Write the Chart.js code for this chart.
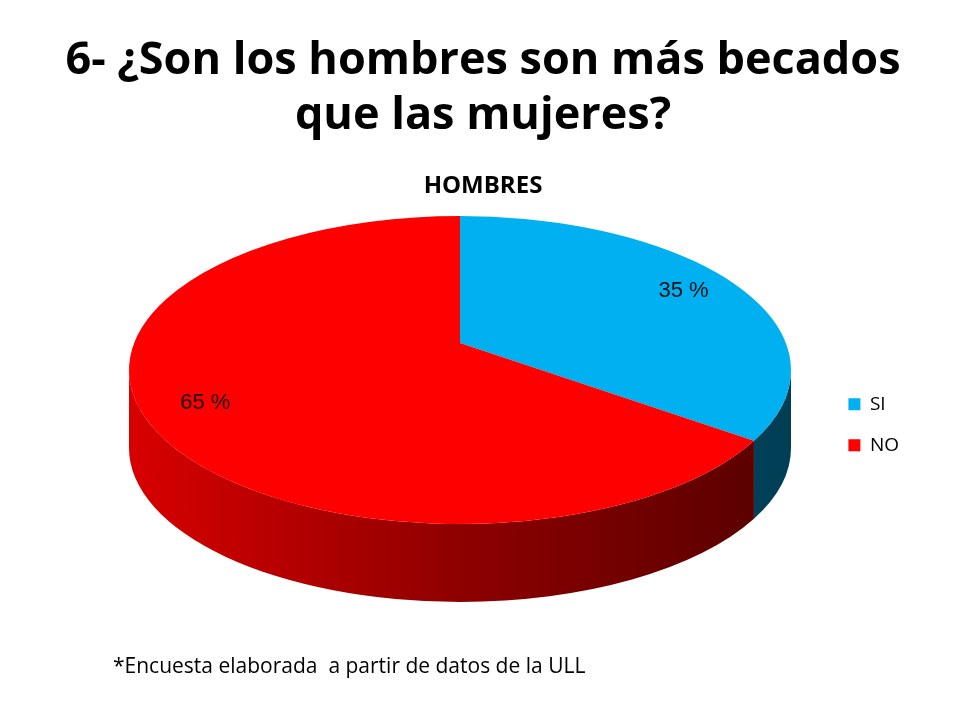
<!DOCTYPE html>
<html lang="es">
<head>
<meta charset="utf-8">
<title>6- ¿Son los hombres son más becados que las mujeres?</title>
<script src="https://cdn.jsdelivr.net/npm/chart.js@4.4.1/dist/chart.umd.min.js"></script>
<style>
  html, body { margin: 0; padding: 0; background: #fff; }
  #wrap { position: relative; width: 960px; height: 720px; }
  #note {
    position: absolute; left: 113px; top: 651px;
    font: 21px "Open Sans", sans-serif; color: #000; white-space: pre;
  }
</style>
</head>
<body>
<div id="wrap">
  <canvas id="pie" width="960" height="720"></canvas>
  <div id="note">*Encuesta elaborada  a partir de datos de la ULL</div>
</div>
<script>
// ── Data ────────────────────────────────────────────────────────────────
const TITLE_LINES = ["6- ¿Son los hombres son más becados", "que las mujeres?"];
const SUBTITLE    = "HOMBRES";
const CATEGORIES  = ["SI", "NO"];
const VALUES      = [35, 65];
const TOP_COLORS  = ["#00B0F0", "#FF0000"];

// ── 3D look (layout only) ───────────────────────────────────────────────
// outline ellipse of the top face, perspective drop of the centre, wall height
const ELLIPSE = { cx: 460, cy: 370, rx: 331, ry: 154, drop: 27, depth: 78 };

// perspective map of a point on the unit disk (canvas angle, radius) onto the tilted top face
function project(theta, f) {
  const { cx, cy, rx, ry, drop } = ELLIPSE;
  const c = -drop / ry;
  const a = Math.sqrt(1 - c * c);
  const u = f * Math.cos(theta), v = f * Math.sin(theta);
  const w = 1 + c * v;
  return { x: cx + rx * a * u / w, y: cy + ry * (v + c) / w };
}

// same point expressed as an angle on the outline ellipse (unwrapped near theta)
function outlineAngle(theta) {
  const { cx, cy, rx, ry } = ELLIPSE;
  const p = project(theta, 1);
  let phi = Math.atan2((p.y - cy) / ry, (p.x - cx) / rx);
  phi += 2 * Math.PI * Math.round((theta - phi) / (2 * Math.PI));
  return phi;
}

function sideFill(ctx, i) {
  const g = ctx.createLinearGradient(ELLIPSE.cx - ELLIPSE.rx, 0, ELLIPSE.cx + ELLIPSE.rx, 0);
  if (i === 0) {
    g.addColorStop(0, "#006a8e");
    g.addColorStop(1, "#003e55");
  } else {
    g.addColorStop(0, "#d80000");
    g.addColorStop(0.5, "#8e0000");
    g.addColorStop(1, "#560000");
  }
  return g;
}

const pie3d = {
  id: "pie3d",
  beforeDatasetsDraw(chart) {
    const ctx = chart.ctx;
    const meta = chart.getDatasetMeta(0);
    const { cx, cy, rx, ry, drop, depth } = ELLIPSE;

    // side walls: only the front half of the outline is visible
    meta.data.forEach((arc, i) => {
      const { startAngle, endAngle } = arc.getProps(["startAngle", "endAngle"], true);
      const a = Math.max(outlineAngle(startAngle), 0);
      const b = Math.min(outlineAngle(endAngle), Math.PI);
      if (b <= a) return;
      ctx.save();
      ctx.beginPath();
      ctx.ellipse(cx, cy, rx, ry, 0, a, b, false);
      ctx.ellipse(cx, cy + depth, rx, ry, 0, b, a, true);
      ctx.closePath();
      ctx.fillStyle = sideFill(ctx, i);
      ctx.fill();
      ctx.restore();
    });

    // top face: each arc's sector seen in perspective
    meta.data.forEach(arc => {
      const { startAngle, endAngle } = arc.getProps(["startAngle", "endAngle"], true);
      ctx.save();
      ctx.beginPath();
      ctx.moveTo(cx, cy - drop);
      ctx.ellipse(cx, cy, rx, ry, 0, outlineAngle(startAngle), outlineAngle(endAngle), false);
      ctx.closePath();
      ctx.fillStyle = arc.options.backgroundColor;
      ctx.fill();
      ctx.restore();
    });
    return false;
  },
  afterDraw(chart) {
    const ctx = chart.ctx;
    const meta = chart.getDatasetMeta(0);
    ctx.save();
    ctx.font = '22px "Liberation Sans", Arial, sans-serif';
    ctx.fillStyle = "#111";
    ctx.textAlign = "center";
    ctx.textBaseline = "middle";
    meta.data.forEach((arc, i) => {
      const { startAngle, endAngle } = arc.getProps(["startAngle", "endAngle"], true);
      const p = project((startAngle + endAngle) / 2, 0.82);
      ctx.fillText(VALUES[i] + " %", p.x, p.y);
    });
    ctx.restore();
  }
};

new Chart(document.getElementById("pie"), {
  type: "pie",
  data: {
    labels: CATEGORIES,
    datasets: [{
      data: VALUES,
      backgroundColor: TOP_COLORS,
      borderWidth: 0,
    }],
  },
  options: {
    responsive: false,
    animation: false,
    devicePixelRatio: 1,
    layout: { padding: { top: 10, right: 51, bottom: 81, left: 57 } },
    plugins: {
      title: {
        display: true,
        text: TITLE_LINES,
        color: "#000",
        font: { family: "Open Sans, sans-serif", size: 45, weight: "bold", lineHeight: 1.22 },
        padding: { top: 24, bottom: 28 },
      },
      subtitle: {
        display: true,
        text: SUBTITLE,
        color: "#000",
        font: { family: "Open Sans, sans-serif", size: 24, weight: "bold", lineHeight: 1.2 },
        padding: { top: 0, bottom: 10 },
      },
      legend: {
        position: "right",
        fullSize: false,
        labels: {
          boxWidth: 12,
          boxHeight: 12,
          padding: 22,
          color: "#000",
          font: { family: "Open Sans, sans-serif", size: 19 },
        },
      },
      tooltip: { enabled: false },
    },
  },
  plugins: [pie3d],
});
</script>
</body>
</html>
